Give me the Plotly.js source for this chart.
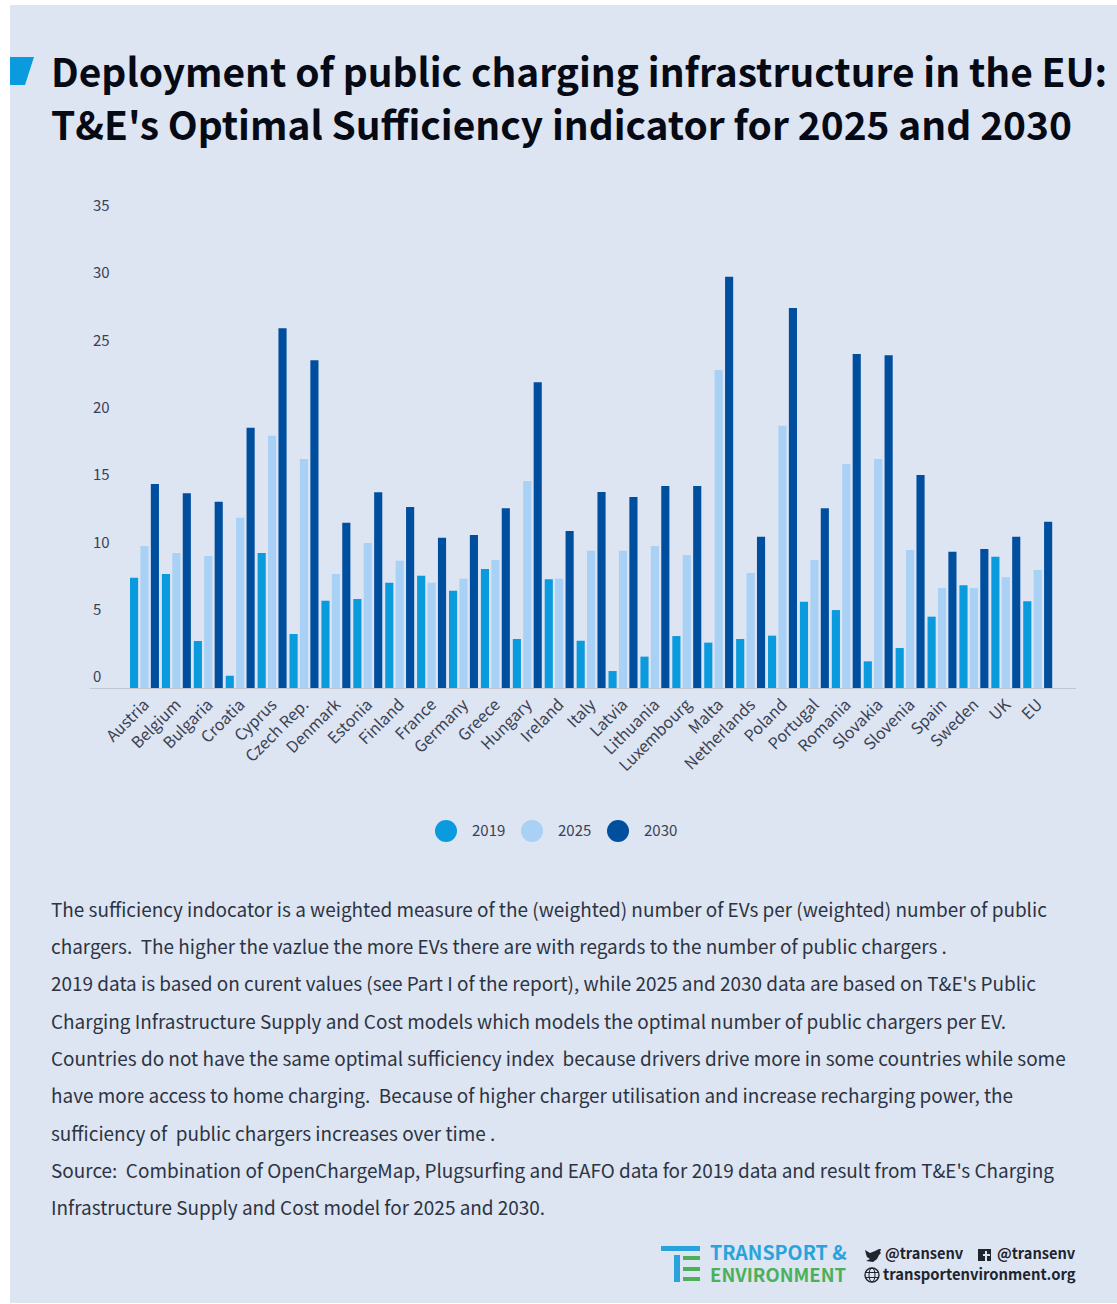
<!DOCTYPE html>
<html><head><meta charset="utf-8">
<script src="https://cdn.plot.ly/plotly-3.0.1.min.js"></script>
<style>html,body{margin:0;padding:0;background:#fff;overflow:hidden}#c{width:1117px;height:1304px}</style>
</head><body><div id="c"></div>
<script>
const countries = ["Austria","Belgium","Bulgaria","Croatia","Cyprus","Czech Rep.","Denmark","Estonia","Finland","France","Germany","Greece","Hungary","Ireland","Italy","Latvia","Lithuania","Luxembourg","Malta","Netherlands","Poland","Portugal","Romania","Slovakia","Slovenia","Spain","Sweden","UK","EU"];
const v2019 = [8.19,8.47,3.49,0.91,10.03,4.01,6.49,6.61,7.82,8.34,7.23,8.84,3.64,8.08,3.51,1.26,2.33,3.86,3.37,3.64,3.89,6.41,5.79,1.98,2.97,5.30,7.63,9.75,6.44];
const v2025 = [10.55,10.03,9.81,12.65,18.74,17.01,8.47,10.77,9.46,7.82,8.12,9.51,15.38,8.12,10.2,10.2,10.55,9.88,23.63,8.54,19.49,9.51,16.64,17.01,10.25,7.43,7.43,8.22,8.77];
const v2030 = [15.16,14.47,13.84,19.34,26.72,24.35,12.28,14.54,13.45,11.17,11.37,13.35,22.71,11.66,14.56,14.19,15.01,15.01,30.56,11.24,28.23,13.35,24.81,24.72,15.82,10.13,10.33,11.24,12.36];
const yTicks = [0,5,10,15,20,25,30,35];
const titleLines = ["Deployment of public charging infrastructure in the EU:","T&E's Optimal Sufficiency indicator for 2025 and 2030"];
const bodyLines = [
"The sufficiency indocator is a weighted measure of the (weighted) number of EVs per (weighted) number of public",
"chargers.  The higher the vazlue the more EVs there are with regards to the number of public chargers .",
"2019 data is based on curent values (see Part I of the report), while 2025 and 2030 data are based on T&E's Public",
"Charging Infrastructure Supply and Cost models which models the optimal number of public chargers per EV.",
"Countries do not have the same optimal sufficiency index  because drivers drive more in some countries while some",
"have more access to home charging.  Because of higher charger utilisation and increase recharging power, the",
"sufficiency of  public chargers increases over time .",
"Source:  Combination of OpenChargeMap, Plugsurfing and EAFO data for 2019 data and result from T&E's Charging",
"Infrastructure Supply and Cost model for 2025 and 2030."];
const bodyY = [910,947,984,1022,1059,1096,1134,1171,1208];
const C19="#0a9ade",C25="#a9d0f5",C30="#004f9f",BG="#dde4f2",INK="#3a4252";
const FONT='"Noto Sans CJK SC","Noto Sans",sans-serif';

const L=90,R=1076,T=190,B=688;
const px=x=>(x-L)/(R-L), py=y=>(B-y)/(B-T);
const P=pts=>pts.map((p,i)=>(i?'L':'M')+px(p[0])+','+py(p[1])).join(' ')+' Z';
const rect=(x0,y0,x1,y1,c)=>({type:'rect',xref:'paper',yref:'paper',x0:px(x0),x1:px(x1),y0:py(y0),y1:py(y1),fillcolor:c,line:{width:0},layer:'below'});
const circ=(cx,cy,r,c)=>({type:'circle',xref:'paper',yref:'paper',x0:px(cx-r),x1:px(cx+r),y0:py(cy+r),y1:py(cy-r),fillcolor:c,line:{width:0},layer:'above'});
const poly=(pts,c)=>({type:'path',xref:'paper',yref:'paper',path:P(pts),fillcolor:c,line:{width:0},layer:'above'});
const txt=(x,y,t,size,color,weight)=>({xref:'paper',yref:'paper',x:px(x-2),y:py(y-size*0.08),text:t,showarrow:false,xanchor:'left',yanchor:'middle',align:'left',borderpad:0,
  font:{family:FONT,size:size,color:color,weight:weight||400}});

const shapes=[
 rect(10,5,1117,1303,BG),
 poly([[10,57],[34,57],[25,85],[10,85]],C19),
 circ(446,831,11,C19),circ(532,831,11,C25),circ(618,831,11,C30),
 rect(661,1246,700,1251,"#2aa3dc"),rect(674,1255,680,1282,"#2aa3dc"),
 rect(683,1256,700,1260,"#4cb05a"),rect(683,1267,700,1271,"#4cb05a"),rect(683,1277,700,1281,"#4cb05a"),
 poly([[865,1250],[870,1253],[875,1251],[879,1249],[881,1249],[880,1252],[881,1253],[879,1255],[877,1259],[873,1262],[866,1261],[870,1259],[867,1257],[866,1254]],"#20242c"),
 rect(978,1249,991,1261,"#20242c"),rect(985,1251,987,1261,BG),rect(983,1254,990,1256,BG),
 {type:'circle',xref:'paper',yref:'paper',x0:px(865),x1:px(879),y0:py(1282),y1:py(1268),fillcolor:'rgba(0,0,0,0)',line:{width:1.4,color:"#20242c"},layer:'above'},
 {type:'circle',xref:'paper',yref:'paper',x0:px(869),x1:px(875),y0:py(1282),y1:py(1268),fillcolor:'rgba(0,0,0,0)',line:{width:1,color:"#20242c"},layer:'above'},
 rect(865,1272,879,1273,"#20242c"),rect(865,1277,879,1278,"#20242c")
];

const annotations=[
 txt(52,73,titleLines[0],38.9,"#060a14",700),
 txt(52,126,titleLines[1],38.9,"#060a14",700),
 txt(473,831,"2019",15,INK),txt(559,831,"2025",15,INK),txt(645,831,"2030",15,INK),
 ...bodyLines.map((t,i)=>txt(52,bodyY[i],t,18.95,"#2c3442")),
 txt(711,1253,"TRANSPORT &",19.5,"#2aa3dc",700),
 txt(711,1275,"ENVIRONMENT",18.5,"#4cb05a",700),
 txt(886,1254,"@transenv",14.6,"#20242c",700),
 txt(998,1254,"@transenv",14.6,"#20242c",700),
 txt(884,1275,"transportenvironment.org",14.8,"#20242c",700)
];

const bar=(name,y,c)=>({type:'bar',name,x:countries,y,marker:{color:c,line:{width:0}},showlegend:false,hoverinfo:'x+y+name'});
Plotly.newPlot('c',[bar('2019',v2019,C19),bar('2025',v2025,C25),bar('2030',v2030,C30)],{
 width:1117,height:1304,autosize:false,
 margin:{l:L,r:1117-R,t:T,b:1304-B,pad:0},
 paper_bgcolor:'#ffffff',plot_bgcolor:'rgba(0,0,0,0)',
 barmode:'group',bargap:0.02,bargroupgap:0.22,
 showlegend:false,
 xaxis:{type:'category',categoryorder:'array',categoryarray:countries,range:[-1.708,29.2],
   tickangle:-45,ticks:'',showgrid:false,zeroline:false,showline:true,linecolor:'#c4c6cf',linewidth:1,
   tickfont:{family:FONT,size:16,color:INK},automargin:false},
 yaxis:{range:[0,37],tickmode:'array',tickvals:yTicks,ticktext:yTicks.map(String),ticks:'',showgrid:false,zeroline:false,showline:false,
   ticklabelposition:'inside',ticklabelshift:-11,tickfont:{family:FONT,size:15,color:INK},automargin:false},
 shapes,annotations
},{staticPlot:true,displayModeBar:false});
</script></body></html>
